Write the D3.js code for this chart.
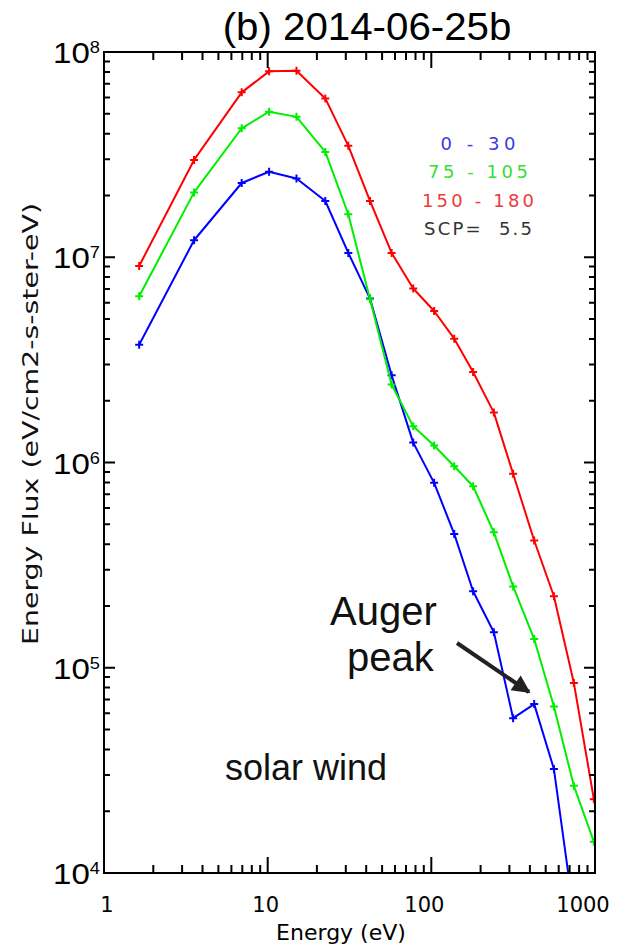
<!DOCTYPE html>
<html>
<head>
<meta charset="utf-8">
<script src="https://cdn.jsdelivr.net/npm/d3@7"></script>
<style>
  html, body { margin: 0; padding: 0; background: #fff; }
  svg { display: block; }
</style>
</head>
<body>
<div id="chart"></div>
<script>
// Electron energy-flux spectra for three pitch-angle ranges
const energy = [1.64, 3.55, 6.94, 10.2, 15.0, 22.5, 31.1, 42.2, 57.2, 77.5, 104, 138, 180, 241, 316, 425, 561, 743, 984];

const flux0to30 = [3.75e6, 1.21e7, 2.30e7, 2.61e7, 2.42e7, 1.88e7, 1.05e7, 6.29e6, 2.66e6, 1.25e6,
                   7.96e5, 4.49e5, 2.36e5, 1.49e5, 5.68e4, 6.65e4, 3.21e4, 6.3e3];
const flux75to105 = [6.45e6, 2.07e7, 4.25e7, 5.12e7, 4.83e7, 3.26e7, 1.62e7, 6.24e6, 2.40e6, 1.50e6,
                     1.21e6, 9.59e5, 7.66e5, 4.57e5, 2.49e5, 1.38e5, 6.48e4, 2.66e4, 1.42e4];
const flux150to180 = [9.07e6, 2.98e7, 6.36e7, 8.05e7, 8.10e7, 5.94e7, 3.49e7, 1.88e7, 1.05e7, 7.04e6,
                      5.47e6, 4.01e6, 2.76e6, 1.75e6, 8.81e5, 4.17e5, 2.23e5, 8.42e4, 2.29e4];

const seriesNames = ["0 - 30", "75 - 105", "150 - 180"];
const seriesColors = ["#0000ff", "#00ee00", "#ff0000"];
const legendColors = ["#3a3ae0", "#33e033", "#ec3a3a"];
const scpLabel = "SCP=  5.5";

const xTickValues = [1, 10, 100, 1000];
const xTickLabels = ["1", "10", "100", "1000"];
const yTickValues = [1e4, 1e5, 1e6, 1e7, 1e8];
const yTickExponents = ["4", "5", "6", "7", "8"];

const titleText = "(b) 2014-06-25b";
const xTitle = "Energy (eV)";
const yTitle = "Energy Flux (eV/cm2-s-ster-eV)";

const W = 626, H = 948;
const plot = { left: 104, right: 595, top: 52, bottom: 873 };

const svg = d3.select("#chart").append("svg")
  .attr("width", W).attr("height", H);

const x = d3.scaleLog().domain([1, 1000]).range([plot.left, plot.right]);
const y = d3.scaleLog().domain([1e4, 1e8]).range([plot.bottom, plot.top]);

const minorX = [];
for (let d = 1; d < 1000; d *= 10) for (let k = 2; k <= 9; k++) minorX.push(d * k);
const minorY = [];
for (let d = 1e4; d < 1e8; d *= 10) for (let k = 2; k <= 9; k++) minorY.push(d * k);

// clip so curves stop at the frame
svg.append("clipPath").attr("id", "plotClip")
  .append("rect")
  .attr("x", plot.left).attr("y", plot.top)
  .attr("width", plot.right - plot.left).attr("height", plot.bottom - plot.top);

const allSeries = [flux0to30, flux75to105, flux150to180];
const line = d3.line().x(d => x(d[0])).y(d => y(d[1]));
const dataLayer = svg.append("g").attr("clip-path", "url(#plotClip)");

allSeries.forEach((vals, i) => {
  const pts = vals.map((v, j) => [energy[j], v]);
  dataLayer.append("path")
    .datum(pts)
    .attr("d", line)
    .attr("fill", "none")
    .attr("stroke", seriesColors[i])
    .attr("stroke-width", 2)
    .attr("stroke-linejoin", "round");
  dataLayer.selectAll(null)
    .data(pts)
    .enter().append("path")
    .attr("d", "M-4,0H4M0,-4V4")
    .attr("transform", d => `translate(${x(d[0])},${y(d[1])})`)
    .attr("stroke", seriesColors[i])
    .attr("stroke-width", 2);
});

// frame
svg.append("rect")
  .attr("x", plot.left).attr("y", plot.top)
  .attr("width", plot.right - plot.left).attr("height", plot.bottom - plot.top)
  .attr("fill", "none").attr("stroke", "#000").attr("stroke-width", 2);

// inward tick marks on all four sides of the frame
let tickPath = "";
xTickValues.forEach(d => {
  const px = x(d).toFixed(1);
  tickPath += `M${px},${plot.bottom}V${plot.bottom - 16}M${px},${plot.top}V${plot.top + 16}`;
});
minorX.forEach(d => {
  const px = x(d).toFixed(1);
  tickPath += `M${px},${plot.bottom}V${plot.bottom - 8}M${px},${plot.top}V${plot.top + 8}`;
});
yTickValues.forEach(d => {
  const py = y(d).toFixed(1);
  tickPath += `M${plot.left},${py}H${plot.left + 11}M${plot.right},${py}H${plot.right - 11}`;
});
minorY.forEach(d => {
  const py = y(d).toFixed(1);
  tickPath += `M${plot.left},${py}H${plot.left + 6}M${plot.right},${py}H${plot.right - 6}`;
});
svg.append("path")
  .attr("d", tickPath)
  .attr("fill", "none")
  .attr("stroke", "#000")
  .attr("stroke-width", 2);

// y tick labels: 10 with a superscript exponent
yTickValues.forEach((v, i) => {
  const t = svg.append("text")
    .attr("transform", `translate(100,${y(v) + 11}) scale(1.14,1)`)
    .attr("text-anchor", "end")
    .attr("font-family", "Liberation Sans, Arial, sans-serif")
    .attr("font-size", 29)
    .attr("fill", "#000");
  t.append("tspan").text("10");
  t.append("tspan").attr("dy", -10).attr("font-size", 16).text(yTickExponents[i]);
});

// x tick labels
xTickValues.forEach((v, i) => {
  svg.append("text")
    .attr("x", x(v) + 3 - 5 * (xTickLabels[i].length - 1))
    .attr("y", 912)
    .attr("text-anchor", "middle")
    .attr("font-family", "DejaVu Sans, sans-serif")
    .attr("font-size", 21)
    .attr("fill", "#000")
    .text(xTickLabels[i]);
});

// axis titles
svg.append("text")
  .attr("x", 341).attr("y", 940)
  .attr("text-anchor", "middle")
  .attr("font-family", "DejaVu Sans, sans-serif")
  .attr("font-size", 22)
  .attr("fill", "#000")
  .text(xTitle);

svg.append("text")
  .attr("transform", "translate(38,424) rotate(-90)")
  .attr("text-anchor", "middle")
  .attr("font-family", "DejaVu Sans, sans-serif")
  .attr("font-size", 21)
  .attr("textLength", 442)
  .attr("lengthAdjust", "spacingAndGlyphs")
  .attr("fill", "#111")
  .text(yTitle);

// title
svg.append("text")
  .attr("transform", "translate(367,40) scale(1.06,1)")
  .attr("text-anchor", "middle")
  .attr("font-family", "Liberation Sans, Arial, sans-serif")
  .attr("font-size", 38)
  .attr("fill", "#000")
  .text(titleText);

// legend
const legendRows = seriesNames.map((s, i) => ({ text: s, color: legendColors[i] }))
  .concat([{ text: scpLabel, color: "#333" }]);
const legendWidths = [75, 100, 112, 108];
legendRows.forEach((r, i) => {
  svg.append("text")
    .attr("x", 478).attr("y", 150 + i * 28.3)
    .attr("text-anchor", "middle")
    .attr("font-family", "DejaVu Sans, sans-serif")
    .attr("font-size", 18)
    .attr("textLength", legendWidths[i])
    .attr("lengthAdjust", "spacing")
    .style("white-space", "pre")
    .attr("fill", r.color)
    .text(r.text);
});

// annotations
const annFont = "Liberation Sans, Arial, Helvetica, sans-serif";
svg.append("text").attr("x", 330).attr("y", 625)
  .attr("font-family", annFont).attr("font-size", 40).attr("fill", "#111").text("Auger");
svg.append("text").attr("x", 347).attr("y", 671)
  .attr("font-family", annFont).attr("font-size", 40).attr("fill", "#111").text("peak");
svg.append("text").attr("x", 225).attr("y", 780)
  .attr("font-family", annFont).attr("font-size", 36).attr("fill", "#111").text("solar wind");

svg.append("defs").append("marker")
  .attr("id", "arrowHead")
  .attr("viewBox", "0 0 10 10")
  .attr("refX", 9).attr("refY", 5)
  .attr("markerWidth", 5).attr("markerHeight", 4.5)
  .attr("markerUnits", "strokeWidth")
  .attr("orient", "auto")
  .append("path").attr("d", "M0,0L10,5L0,10Z").attr("fill", "#222");

svg.append("line")
  .attr("x1", 457).attr("y1", 643)
  .attr("x2", 529).attr("y2", 692)
  .attr("stroke", "#222").attr("stroke-width", 4)
  .attr("marker-end", "url(#arrowHead)");
</script>
</body>
</html>
